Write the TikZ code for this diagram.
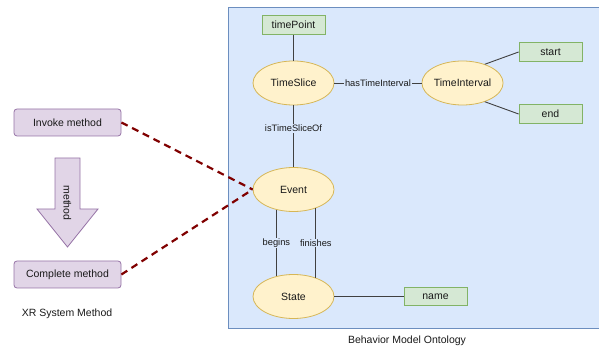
\documentclass[tikz,border=0pt]{standalone}
\usepackage{fontspec}
\setmainfont{Liberation Sans}
\usetikzlibrary{shapes.geometric}
\definecolor{panelfill}{HTML}{DAE8FC}
\definecolor{panelline}{HTML}{6C8EBF}
\definecolor{ellfill}{HTML}{FFF2CC}
\definecolor{ellline}{HTML}{D6B656}
\definecolor{grfill}{HTML}{D5E8D4}
\definecolor{grline}{HTML}{82B366}
\definecolor{pufill}{HTML}{E1D5E7}
\definecolor{puline}{HTML}{9673A6}
\definecolor{darkred}{HTML}{800000}
\begin{document}
\begin{tikzpicture}[x=1pt,y=-1pt,
  every node/.style={font=\fontsize{10.5}{12}\selectfont, text=black!90},
  ell/.style={ellipse, draw=ellline, fill=ellfill, line width=0.8pt, minimum width=81pt, minimum height=44pt, inner sep=0pt},
  attr/.style={rectangle, draw=grline, fill=grfill, line width=0.8pt, minimum width=63pt, minimum height=18.5pt, inner sep=0pt},
  meth/.style={rectangle, rounded corners=3pt, draw=puline, fill=pufill, line width=0.8pt, minimum width=107pt, minimum height=27pt, inner sep=0pt},
  rel/.style={draw=black!75, line width=0.9pt},
  lbl/.style={fill=panelfill, inner sep=1pt, font=\fontsize{9.3}{11}\selectfont},
  link/.style={draw=darkred, line width=2.2pt, dash pattern=on 7pt off 5pt}
]
\useasboundingbox (0,0) rectangle (599,352);
% panel
\path[fill=panelfill, draw=panelline, line width=0.8pt] (228,7) rectangle (600,328);

% ontology nodes
\node[attr] (tp) at (293.5,25) {timePoint};
\node[ell] (ts) at (293.5,83) {TimeSlice};
\node[ell] (ti) at (462.5,83) {TimeInterval};
\node[attr] (start) at (550.5,52) {start};
\node[attr] (end) at (550.5,114) {end};
\node[ell] (ev) at (293.5,189.5) {Event};
\node[ell] (st) at (293.5,296.5) {State};
\node[attr] (nm) at (435.5,296.5) {name};

\draw[rel] (tp) -- (ts);
\draw[rel] (ts) -- node[lbl] {hasTimeInterval} (ti);
\draw[rel] (ti.40) -- (start.west);
\draw[rel] (ti.-40) -- (end.west);
\draw[rel] (ts) -- node[lbl, pos=0.37] {isTimeSliceOf} (ev);
\draw[rel] (ev.-130) -- node[lbl] {begins} (st.130);
\draw[rel] (ev.-40) -- node[lbl] {finishes} (st.40);
\draw[rel] (st) -- (nm);

% method side
\node[meth] (inv) at (67.5,122.5) {Invoke method};
\node[meth] (cmp) at (67.5,274.5) {Complete method};
\path[fill=pufill, draw=puline, line width=0.8pt]
  (55,158) -- (80,158) -- (80,209) -- (98,209) -- (67.5,247) -- (37,209) -- (55,209) -- cycle;
\node[rotate=-90] (mlab) at (67.5,203) {method};
\node (xr) at (67,314) {XR System Method};
\node (bmo) at (407,341) {Behavior Model Ontology};

\draw[link] (inv.east) -- (ev.west);
\draw[link] (cmp.east) -- (ev.west);
\end{tikzpicture}
\end{document}
